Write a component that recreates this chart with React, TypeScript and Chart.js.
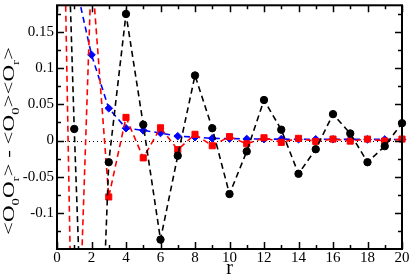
import { useEffect, useRef } from 'react';
import { Chart, registerables } from 'chart.js';

Chart.register(...registerables);

// ---- data ----
const rValues = [0, 1, 2, 3, 4, 5, 6, 7, 8, 9, 10, 11, 12, 13, 14, 15, 16, 17, 18, 19, 20];
const blackValues = [0.78, 0.016, -0.65, -0.03, 0.175, 0.022, -0.137, -0.021, 0.09, 0.017, -0.074, -0.015, 0.056, 0.015, -0.046, -0.012, 0.0365, 0.0098, -0.03, -0.0078, 0.024];
const redValues = [0.85, -0.47, 0.24, -0.078, 0.032, -0.024, 0.0176, -0.0126, 0.0086, -0.0072, 0.0054, -0.0045, 0.0038, -0.0025, 0.003, -0.0012, 0.002, -0.0008, 0.002, -0.0006, 0.002];
const blueValues = [null, 0.225, 0.1185, 0.0446, 0.017, 0.014, 0.0104, 0.006, 0.0046, 0.003, 0.0027, 0.0022, 0.002, 0.0019, 0.0018, 0.0017, 0.0017, 0.0016, 0.0016, 0.0015, 0.0015];

const xTickValues = [0, 2, 4, 6, 8, 10, 12, 14, 16, 18, 20];
const xTickLabels = ['0', '2', '4', '6', '8', '10', '12', '14', '16', '18', '20'];
const yTickValues = [-0.1, -0.05, 0, 0.05, 0.1, 0.15];
const yTickLabels = ['-0.1', '-0.05', '0', '0.05', '0.1', '0.15'];
const xRange = [0, 20];
const yRange = [-0.15, 0.187];

const xTitle = 'r';
const yTitleParts: [string, boolean][] = [
  ['<O', false], ['0', true], ['O', false], ['r', true], ['> - <O', false], ['0', true], ['><O', false], ['r', true], ['>', false],
];

const SERIF = '"Liberation Serif", "Times New Roman", serif';

function minorTicks(major: number[], min: number, max: number): number[] {
  const out: number[] = [];
  const half = (major[1] - major[0]) / 2;
  let v = major[0] - half;
  while (v >= min - 1e-9) { out.push(v); v -= 2 * half; }
  for (let i = 0; i < major.length - 1; i++) out.push((major[i] + major[i + 1]) / 2);
  v = major[major.length - 1] + half;
  while (v <= max + 1e-9) { out.push(v); v += 2 * half; }
  return out;
}

const framePlugin = {
  id: 'framePlugin',
  beforeDatasetsDraw(chart: any) {
    const { ctx, chartArea: a, scales } = chart;
    const y0 = Math.round(scales.y.getPixelForValue(0)) + 0.5;
    ctx.save();
    ctx.strokeStyle = '#000';
    ctx.lineWidth = 1;
    ctx.setLineDash([1, 3]);
    ctx.beginPath();
    ctx.moveTo(a.left, y0);
    ctx.lineTo(a.right, y0);
    ctx.stroke();
    ctx.restore();
  },
  afterDatasetsDraw(chart: any) {
    const { ctx, chartArea: a, scales } = chart;
    const xs = scales.x, ys = scales.y;
    ctx.save();
    ctx.strokeStyle = '#000';
    ctx.lineWidth = 2;
    ctx.setLineDash([]);
    ctx.strokeRect(a.left, a.top, a.right - a.left, a.bottom - a.top);
    ctx.lineWidth = 1.5;
    const MAJ = 7, MIN = 4;
    const drawX = (v: number, len: number) => {
      const px = Math.round(xs.getPixelForValue(v)) + 0.5;
      ctx.beginPath();
      ctx.moveTo(px, a.bottom); ctx.lineTo(px, a.bottom - len);
      ctx.moveTo(px, a.top); ctx.lineTo(px, a.top + len);
      ctx.stroke();
    };
    const drawY = (v: number, len: number) => {
      const py = Math.round(ys.getPixelForValue(v)) + 0.5;
      ctx.beginPath();
      ctx.moveTo(a.left, py); ctx.lineTo(a.left + len, py);
      ctx.moveTo(a.right, py); ctx.lineTo(a.right - len, py);
      ctx.stroke();
    };
    xTickValues.forEach(v => drawX(v, MAJ));
    minorTicks(xTickValues, xRange[0], xRange[1]).forEach(v => drawX(v, MIN));
    yTickValues.forEach(v => drawY(v, MAJ));
    minorTicks(yTickValues, yRange[0], yRange[1]).forEach(v => drawY(v, MIN));
    ctx.restore();
  },
  afterDraw(chart: any) {
    const { ctx, chartArea: a } = chart;
    ctx.save();
    ctx.fillStyle = '#000';
    // x title
    ctx.font = `20px ${SERIF}`;
    ctx.textAlign = 'center';
    ctx.textBaseline = 'alphabetic';
    ctx.fillText(xTitle, (a.left + a.right) / 2, 274);
    // y title with subscripts, rotated
    const mainFont = `17px ${SERIF}`;
    const subFont = `11px ${SERIF}`;
    let w = 0;
    const widths = yTitleParts.map(([t, sub]) => {
      ctx.font = sub ? subFont : mainFont;
      const m = ctx.measureText(t).width;
      w += m;
      return m;
    });
    const target = 188;
    ctx.translate(14, 141);
    ctx.rotate(-Math.PI / 2);
    ctx.scale(target / w, 1);
    ctx.textAlign = 'left';
    let pos = -w / 2;
    yTitleParts.forEach(([t, sub], i) => {
      ctx.font = sub ? subFont : mainFont;
      ctx.fillText(t, pos, sub ? 5 : 0);
      pos += widths[i];
    });
    ctx.restore();
  },
};

export default function App() {
  const ref = useRef<HTMLCanvasElement | null>(null);
  useEffect(() => {
    if (!ref.current) return;
    const mk = (label: string, data: (number | null)[], color: string, style: string, radius: number) => ({
      label,
      data: data.map((v, i) => ({ x: rValues[i], y: v })),
      borderColor: color,
      backgroundColor: color,
      borderWidth: 1.6,
      borderDash: [6, 4],
      pointStyle: style,
      pointRadius: radius,
      pointBorderWidth: 1,
      pointBorderColor: color,
      pointBackgroundColor: color,
      tension: 0,
      spanGaps: false,
      clip: { left: 0, top: 0, right: 6, bottom: 0 },
    });
    const chart = new Chart(ref.current, {
      type: 'line',
      data: {
        datasets: [
          mk('black', blackValues, '#000000', 'circle', 3.7),
          mk('red', redValues, '#ff0000', 'rect', 4.3),
          mk('blue', blueValues, '#0000ff', 'rectRot', 3.8),
        ],
      },
      options: {
        animation: false,
        responsive: false,
        devicePixelRatio: 1,
        layout: { padding: { left: 0, right: 9, top: 1, bottom: 0 } },
        plugins: { legend: { display: false }, tooltip: { enabled: false } },
        scales: {
          x: {
            type: 'linear',
            min: xRange[0],
            max: xRange[1],
            grid: { display: false, drawTicks: false },
            border: { display: false },
            afterBuildTicks: (s: any) => { s.ticks = xTickValues.map(v => ({ value: v })); },
            afterFit: (s: any) => { s.height = 27; s.paddingLeft = 0; s.paddingRight = 0; },
            ticks: {
              padding: 0,
              maxRotation: 0,
              autoSkip: false,
              color: '#000',
              font: { family: SERIF, size: 15 },
              callback: (_v: any, i: number) => xTickLabels[i],
            },
          },
          y: {
            type: 'linear',
            min: yRange[0],
            max: yRange[1],
            grid: { display: false, drawTicks: false },
            border: { display: false },
            afterBuildTicks: (s: any) => { s.ticks = yTickValues.map(v => ({ value: v })); },
            afterFit: (s: any) => { s.width = 57; s.paddingTop = 0; s.paddingBottom = 0; },
            ticks: {
              padding: 3,
              autoSkip: false,
              color: '#000',
              font: { family: SERIF, size: 15 },
              callback: (_v: any, i: number) => yTickLabels[i],
            },
          },
        },
      },
      plugins: [framePlugin],
    } as any);
    return () => chart.destroy();
  }, []);
  return (
    <div style={{ position: 'absolute', left: 0, top: 0, width: 411, height: 276, background: '#fff' }}>
      <canvas ref={ref} width={411} height={276} style={{ display: 'block' }} />
    </div>
  );
}
